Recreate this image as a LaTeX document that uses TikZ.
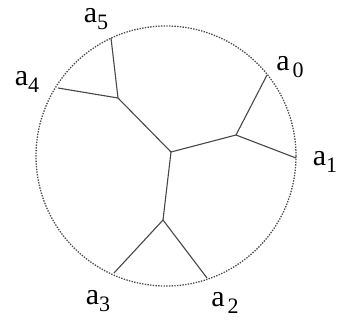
\documentclass[tikz,border=0pt]{standalone}
\usepackage{fontspec}
\setmainfont{Liberation Serif}
\newcommand{\lab}[2]{a\kern#1pt\raisebox{-7pt}{\fontsize{22}{24}\selectfont #2}}
\begin{document}
\begin{tikzpicture}[x=1pt,y=-1pt,
  edge/.style={draw=black!72,line width=1.1pt},
  rim/.style={draw=black!70,line width=1.3pt,dash pattern=on 1.4pt off 1.3pt},
  lbl/.style={inner sep=0pt,font=\fontsize{30}{32}\selectfont}]
\useasboundingbox (0,0) rectangle (339,329);
\node[rim,circle,minimum size=260pt,inner sep=0pt] (rim) at (166,156) {};
\coordinate (l5) at (111,38);
\coordinate (l4) at (58,88);
\coordinate (j45) at (118,98);
\coordinate (c) at (171,152);
\coordinate (j01) at (236,135);
\coordinate (l0) at (267,75);
\coordinate (l1) at (296,158);
\coordinate (j23) at (163,220);
\coordinate (l3) at (114,273);
\coordinate (l2) at (207,278);
\draw[edge] (l5) -- (j45) -- (l4);
\draw[edge] (j45) -- (c) -- (j01);
\draw[edge] (l0) -- (j01) -- (l1);
\draw[edge] (c) -- (j23);
\draw[edge] (l3) -- (j23) -- (l2);
\node[lbl] (t5) at (96,19) {\lab{0}{5}};
\node[lbl] (t4) at (27,82) {\lab{0}{4}};
\node[lbl] (t0) at (290,67) {\lab{3}{0}};
\node[lbl] (t1) at (325,162) {\lab{0}{1}};
\node[lbl] (t3) at (98,301) {\lab{0}{3}};
\node[lbl] (t2) at (225,303) {\lab{3}{2}};
\end{tikzpicture}
\end{document}
